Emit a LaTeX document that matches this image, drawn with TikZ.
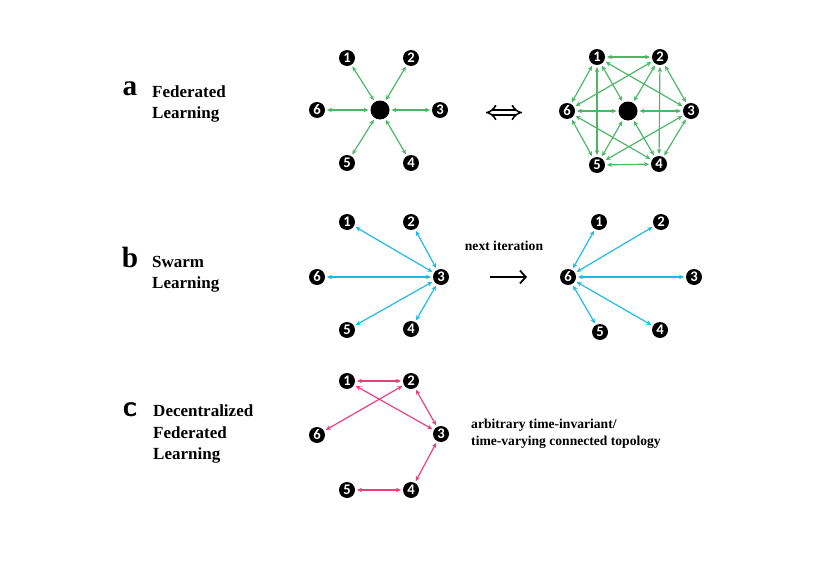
\documentclass[tikz,border=0pt]{standalone}
\usepackage{fontspec}
\setmainfont{Liberation Serif}
\newfontfamily\numfont{Carlito}
\usepackage{tikz}
\usetikzlibrary{arrows.meta,positioning}

\definecolor{flgreen}{RGB}{76,182,102}
\definecolor{slblue}{RGB}{28,186,230}
\definecolor{dlpink}{RGB}{234,64,122}

\begin{document}
\begin{tikzpicture}[
  x=0.03cm, y=-0.03cm,
  agent/.style={circle, fill=black, text=white, minimum size=4.8mm, inner sep=0pt, font=\numfont\bfseries\fontsize{12.5}{12.5}\selectfont},
  hub/.style={circle, fill=black, minimum size=5.7mm, inner sep=0pt},
  letter/.style={font=\bfseries\fontsize{25}{25}\selectfont},
  title/.style={anchor=west, align=left, inner sep=0pt, font=\bfseries\fontsize{14.5}{18}\selectfont},
  note/.style={align=left, inner sep=0pt, font=\bfseries\fontsize{11.6}{14.5}\selectfont},
  link/.style={{Stealth[length=4.3pt,width=3.8pt]}-{Stealth[length=4.3pt,width=3.8pt]}, line width=1pt, shorten >=1.5pt, shorten <=1.5pt},
  gedge/.style={link, draw=flgreen},
  bedge/.style={link, draw=slblue},
  pedge/.style={link, draw=dlpink}
]
\useasboundingbox (0,0) rectangle (830,587);

% ================= a: Federated Learning =================
\node[letter] (la) at (130,89) {a};
\node[title] (ta) at (152,104) {Federated\\Learning};

\node[hub] (flc) at (380,110) {};
\node[agent] (fl1) at (347,58) {1};
\node[agent] (fl2) at (411,58) {2};
\node[agent] (fl3) at (440,110) {3};
\node[agent] (fl4) at (411,163) {4};
\node[agent] (fl5) at (347,163) {5};
\node[agent] (fl6) at (317,110) {6};

\draw[gedge] (fl1) -- (flc);
\draw[gedge] (fl2) -- (flc);
\draw[gedge] (fl3) -- (flc);
\draw[gedge] (fl4) -- (flc);
\draw[gedge] (fl5) -- (flc);
\draw[gedge] (fl6) -- (flc);

% equivalence sign
\coordinate (eqL) at (486,112.5);
\coordinate (eqR) at (522,112.5);
\draw[double, double distance=3.2pt, line width=1.3pt, {Implies}-{Implies}] (eqL) -- (eqR);

\node[hub] (frc) at (628,111) {};
\node[agent] (fr1) at (597,57) {1};
\node[agent] (fr2) at (660,57) {2};
\node[agent] (fr3) at (691,111) {3};
\node[agent] (fr4) at (659,164) {4};
\node[agent] (fr5) at (597,165) {5};
\node[agent] (fr6) at (567,111) {6};

% hexagon sides
\draw[gedge] (fr1) -- (fr2);
\draw[gedge] (fr2) -- (fr3);
\draw[gedge] (fr3) -- (fr4);
\draw[gedge] (fr4) -- (fr5);
\draw[gedge] (fr5) -- (fr6);
\draw[gedge] (fr6) -- (fr1);
% skip-one chords
\draw[gedge] (fr1) -- (fr3);
\draw[gedge] (fr2) -- (fr4);
\draw[gedge] (fr3) -- (fr5);
\draw[gedge] (fr4) -- (fr6);
\draw[gedge] (fr5) -- (fr1);
\draw[gedge] (fr6) -- (fr2);
% to the hub
\draw[gedge] (fr1) -- (frc);
\draw[gedge] (fr2) -- (frc);
\draw[gedge] (fr3) -- (frc);
\draw[gedge] (fr4) -- (frc);
\draw[gedge] (fr5) -- (frc);
\draw[gedge] (fr6) -- (frc);

% ================= b: Swarm Learning =================
\node[letter] (lb) at (130,257) {b};
\node[title] (tb) at (152,274) {Swarm\\Learning};

\node[agent] (sl1) at (347,222) {1};
\node[agent] (sl2) at (411,222) {2};
\node[agent] (sl3) at (441,277) {3};
\node[agent] (sl4) at (411,329) {4};
\node[agent] (sl5) at (347,330) {5};
\node[agent] (sl6) at (317,277) {6};

\draw[bedge] (sl3) -- (sl1);
\draw[bedge] (sl3) -- (sl2);
\draw[bedge] (sl3) -- (sl4);
\draw[bedge] (sl3) -- (sl5);
\draw[bedge] (sl3) -- (sl6);

\node[note] (nexti) at (504,246) {next iteration};
\coordinate (itL) at (490,277);
\coordinate (itR) at (527,277);
\draw[-{Straight Barb[length=5pt,width=11pt]}, line width=1.5pt] (itL) -- (itR);

\node[agent] (sr1) at (599,222) {1};
\node[agent] (sr2) at (661,222) {2};
\node[agent] (sr3) at (694,277) {3};
\node[agent] (sr4) at (660,330) {4};
\node[agent] (sr5) at (600,332) {5};
\node[agent] (sr6) at (568,277) {6};

\draw[bedge] (sr6) -- (sr1);
\draw[bedge] (sr6) -- (sr2);
\draw[bedge] (sr6) -- (sr3);
\draw[bedge] (sr6) -- (sr4);
\draw[bedge] (sr6) -- (sr5);

% ================= c: Decentralized Federated Learning =================
\node[letter, font=\sffamily\bfseries\fontsize{25}{25}\selectfont] (lc) at (130,410) {c};
\node[title] (tc) at (153,434) {Decentralized\\Federated\\Learning};

\node[agent] (dl1) at (347,381) {1};
\node[agent] (dl2) at (411,381) {2};
\node[agent] (dl3) at (441,434) {3};
\node[agent] (dl4) at (411,490) {4};
\node[agent] (dl5) at (347,490) {5};
\node[agent] (dl6) at (317,435) {6};

\draw[pedge] (dl1) -- (dl2);
\draw[pedge] (dl1) -- (dl3);
\draw[pedge] (dl2) -- (dl6);
\draw[pedge] (dl2) -- (dl3);
\draw[pedge] (dl3) -- (dl4);
\draw[pedge] (dl4) -- (dl5);

\node[note, anchor=west] (topo) at (471,434) {arbitrary time-invariant/\\time-varying connected topology};

\end{tikzpicture}
\end{document}
